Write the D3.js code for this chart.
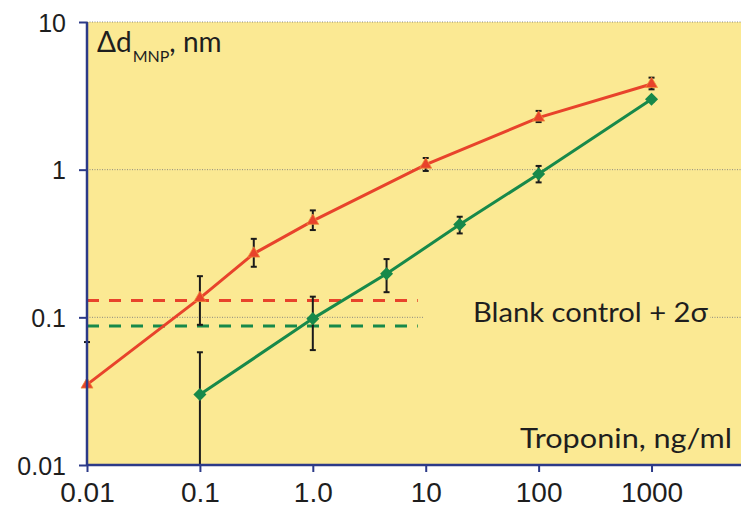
<!DOCTYPE html>
<html>
<head>
<meta charset="utf-8">
<script src="https://cdn.jsdelivr.net/npm/d3@7"></script>
<style>
  html, body { margin: 0; padding: 0; background: #ffffff; }
  svg { display: block; }
</style>
</head>
<body>
<svg id="chart" width="748" height="510"></svg>
<script>
// ---- Data ----
const xTicks = [0.01, 0.1, 1, 10, 100, 1000];
const xTickLabels = ["0.01", "0.1", "1.0", "10", "100", "1000"];
const yTicks = [0.01, 0.1, 1, 10];
const yTickLabels = ["0.01", "0.1", "1", "10"];

const redX   = [0.01, 0.1, 0.3, 1, 10, 100, 1000];
const redY   = [0.035, 0.135, 0.27, 0.45, 1.08, 2.25, 3.8];
const redLo  = [0.035, 0.089, 0.22, 0.39, 0.98, 2.1, 3.5];
const redHi  = [0.068, 0.19, 0.34, 0.53, 1.2, 2.5, 4.2];

const greenX  = [0.1, 1, 4.5, 20, 100, 1000];
const greenY  = [0.03, 0.098, 0.197, 0.425, 0.935, 3.0];
const greenLo = [0.008, 0.06, 0.148, 0.37, 0.82, 2.9];
const greenHi = [0.058, 0.138, 0.248, 0.48, 1.06, 3.1];

const blankRed = 0.13;
const blankGreen = 0.0875;
const blankXRange = [0.01, 8.5];

const titleMain = "\u0394d";
const titleSub = "MNP";
const titleEnd = ", nm";
const blankLabel = "Blank control + 2\u03c3";
const xLabel = "Troponin, ng/ml";

// ---- Layout ----
const svg = d3.select("#chart");
const L = 87, R = 741, T = 22, B = 465;
const bg = "#fbe993";
const axisColor = "#2c3a88";
const redC = "#e8432b";
const greenC = "#17894a";

const x = d3.scaleLog().domain([0.01, 6200]).range([L, R]);
const y = d3.scaleLog().domain([0.01, 10]).range([B, T]);

// background
svg.append("rect").attr("x", L).attr("y", T).attr("width", R - L).attr("height", B - T).attr("fill", bg);

// dotted gridlines
svg.append("g").selectAll("line").data([0.1, 1, 10]).join("line")
  .attr("x1", L).attr("x2", R)
  .attr("y1", d => y(d)).attr("y2", d => y(d))
  .attr("stroke", "#8a8a80").attr("stroke-width", 1).attr("stroke-dasharray", "1,1.5");

// label background hiding the gridline
svg.append("rect").attr("x", 423).attr("y", 304).attr("width", 287).attr("height", 26).attr("fill", bg);

// dashed blank-control lines
[[blankRed, redC], [blankGreen, greenC]].forEach(([v, c]) => {
  svg.append("line")
    .attr("x1", x(blankXRange[0])).attr("x2", x(blankXRange[1]))
    .attr("y1", y(v)).attr("y2", y(v))
    .attr("stroke", c).attr("stroke-width", 3).attr("stroke-dasharray", "12,10");
});

// series lines
const line = d3.line().x(d => x(d[0])).y(d => y(d[1]));
svg.append("path").datum(redX.map((d, i) => [d, redY[i]]))
  .attr("d", line).attr("fill", "none").attr("stroke", redC).attr("stroke-width", 3);
svg.append("path").datum(greenX.map((d, i) => [d, greenY[i]]))
  .attr("d", line).attr("fill", "none").attr("stroke", greenC).attr("stroke-width", 3);

// clip for error bars
svg.append("clipPath").attr("id", "plotclip").append("rect")
  .attr("x", L - 6).attr("y", T).attr("width", R - L + 6).attr("height", B - T);

function errorBars(xs, lo, hi) {
  const g = svg.append("g").attr("clip-path", "url(#plotclip)");
  xs.forEach((xv, i) => {
    const cx = x(xv);
    g.append("line").attr("x1", cx).attr("x2", cx).attr("y1", y(lo[i])).attr("y2", y(hi[i]))
      .attr("stroke", "#1a1a1a").attr("stroke-width", 2);
    [lo[i], hi[i]].forEach(v => {
      if (v > 0.01) g.append("line").attr("x1", cx - 3).attr("x2", cx + 3)
        .attr("y1", y(v)).attr("y2", y(v)).attr("stroke", "#1a1a1a").attr("stroke-width", 2);
    });
  });
}
errorBars(redX, redLo, redHi);
errorBars(greenX, greenLo, greenHi);

// markers
svg.append("g").selectAll("path").data(redX.map((d, i) => [d, redY[i]])).join("path")
  .attr("transform", d => `translate(${x(d[0])},${y(d[1])})`)
  .attr("d", d3.symbol().type(d3.symbolTriangle).size(62))
  .attr("fill", redC).attr("stroke", "#f08a3a").attr("stroke-width", 0.8);
svg.append("g").selectAll("path").data(greenX.map((d, i) => [d, greenY[i]])).join("path")
  .attr("transform", d => `translate(${x(d[0])},${y(d[1])}) rotate(45)`)
  .attr("d", d3.symbol().type(d3.symbolSquare).size(85))
  .attr("fill", greenC);

// axes
const xAxis = d3.axisBottom(x).tickValues(xTicks).tickFormat((d, i) => xTickLabels[i]).tickSize(7).tickPadding(9);
const gx = svg.append("g").attr("transform", `translate(0,${B})`).call(xAxis);
gx.select(".domain").attr("d", `M${L},0H${R}`).attr("stroke", axisColor).attr("stroke-width", 2.5);
gx.selectAll(".tick line").attr("stroke", axisColor).attr("stroke-width", 2);
gx.selectAll(".tick text").attr("font-family", "Liberation Sans, Arial, sans-serif")
  .attr("font-size", 28).attr("fill", "#1e1e1e").attr("dy", "0.74em");

const yAxis = d3.axisLeft(y).tickValues(yTicks).tickFormat((d, i) => yTickLabels[i]).tickSize(8).tickPadding(13);
const gy = svg.append("g").attr("transform", `translate(${L},0)`).call(yAxis);
gy.select(".domain").attr("d", `M0,${B}V${T}`).attr("stroke", axisColor).attr("stroke-width", 2.5);
gy.selectAll(".tick line").attr("stroke", axisColor).attr("stroke-width", 2);
gy.selectAll(".tick text").attr("font-family", "Liberation Sans, Arial, sans-serif")
  .attr("font-size", 25).attr("fill", "#1e1e1e").attr("dy", "0.36em");

// texts
const font = "Lato, 'Open Sans', sans-serif";
const title = svg.append("text").attr("x", 97).attr("y", 52)
  .attr("font-family", font).attr("font-size", 28).attr("fill", "#1e1e1e");
title.append("tspan").text(titleMain);
title.append("tspan").attr("font-size", 16).attr("dy", 10).attr("dx", 1).text(titleSub);
title.append("tspan").attr("dy", -10).text(titleEnd);

svg.append("text").attr("x", 473).attr("y", 322)
  .attr("font-family", font).attr("font-size", 27).attr("fill", "#1e1e1e")
  .attr("textLength", 235).attr("lengthAdjust", "spacingAndGlyphs").text(blankLabel);

svg.append("text").attr("x", 520).attr("y", 448)
  .attr("font-family", font).attr("font-size", 27).attr("fill", "#1e1e1e")
  .attr("textLength", 212).attr("lengthAdjust", "spacingAndGlyphs").text(xLabel);
</script>
</body>
</html>
